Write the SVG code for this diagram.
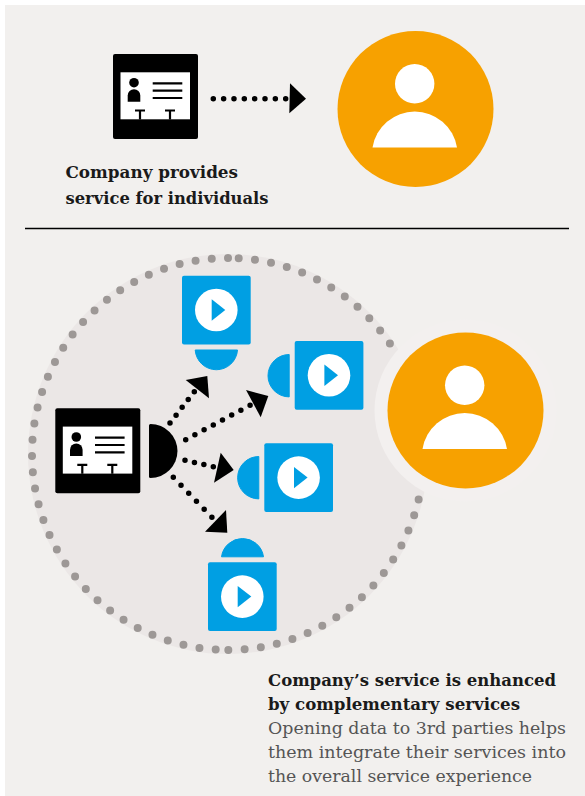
<svg xmlns="http://www.w3.org/2000/svg" width="585" height="796" viewBox="0 0 585 796">
<style>
.t{font-family:"DejaVu Serif","Liberation Serif",serif;font-stretch:condensed;font-size:17.5px}
.b{font-weight:700;fill:#1a1a1a}
.r{fill:#555}
.bl{fill:#009fe3;stroke:#009fe3;stroke-width:1;stroke-linejoin:round}
.dot{fill:none;stroke:#000;stroke-width:5.500;stroke-linecap:round}
.edge{fill:none;stroke:#9d9896;stroke-width:8;stroke-linecap:round;stroke-dasharray:0 1}
</style>
<defs>
<g id="card">
<rect x="0" y="0" width="85" height="85" rx="2" fill="#000"/>
<rect x="7.500" y="18.300" width="69.500" height="47" fill="#fff"/>
<circle cx="21" cy="28.700" r="4.800"/>
<path d="M14.700 47.700v-6.200a6.300 6.300 0 0 1 12.600 0v6.200z"/>
<path d="M39.700 29.300h29.600M39.700 36.700h29.600M39.700 44h29.600" stroke="#000" stroke-width="2.200" fill="none"/>
<path d="M22 56.500h10M27 56.500v9M52 56.500h10M57 56.500v9" stroke="#000" stroke-width="2.200" fill="none"/>
</g>
<g id="player">
<rect x="0" y="0" width="68.700" height="68.700" rx="2" fill="#009fe3"/>
<circle cx="34.300" cy="34.300" r="21.300" fill="#fff"/>
<path d="M29.700 23.600L43.300 34.300L29.700 45z" fill="#009fe3"/>
</g>
<g id="person">
<circle r="78" fill="#f7a100"/>
<circle cx="-0.800" cy="-25.200" r="19.700" fill="#fff"/>
<path d="M-43 38.500A42.800 42.800 0 0 1 41.500 38.500z" fill="#fff"/>
</g>
</defs>
<rect width="585" height="796" fill="#fff"/>
<rect x="5" y="5" width="580" height="791" fill="#f2f0ee"/>

<g id="top-card"><use href="#card" x="113" y="54"/></g>
<g id="top-person"><use href="#person" x="415.500" y="109"/></g>
<g id="divider"><path d="M25 228.500H569" stroke="#000" stroke-width="1.300"/></g>
<g id="top-label">
<text class="t b" x="65.500" y="178.300" textLength="172.500" lengthAdjust="spacingAndGlyphs">Company provides</text>
<text class="t b" x="65.500" y="204.300" textLength="203" lengthAdjust="spacingAndGlyphs">service for individuals</text>
</g>

<g id="ecosystem">
<circle cx="228" cy="454" r="200" fill="#ebe7e6"/>
<path class="edge" pathLength="37.020" d="M228 258A196 196 0 0 0 32 454A196 196 0 0 0 216 649.630"/>
<path class="edge" pathLength="37.020" d="M238.700 258.300A196 196 0 0 1 424 454A196 196 0 0 1 228 650"/>
<circle cx="465.500" cy="410.500" r="91" fill="#f3f0ef"/>
</g>
<g id="person2"><use href="#person" x="465.500" y="410.500"/></g>
<g id="card2">
<use href="#card" x="55.300" y="408.300"/>
<path d="M149 425.500a1.500 1.500 0 0 1 1.500-1.500A27 27 0 0 1 150.500 478a1.500 1.500 0 0 1-1.500-1.500z"/>
</g>
<g id="service-top">
<use href="#player" x="182" y="275.700"/>
<path class="bl" d="M195.200 350H237.500A21.200 21.200 0 0 1 195.200 350z"/>
</g>
<g id="service-right">
<use href="#player" x="294.700" y="341"/>
<path class="bl" d="M289.200 354.500A21.200 21.200 0 0 0 289.200 396.900z"/>
</g>
<g id="service-mid">
<use href="#player" x="264.300" y="443.300"/>
<path class="bl" d="M258.800 456.500A21.200 21.200 0 0 0 258.800 498.900z"/>
</g>
<g id="service-bottom">
<use href="#player" x="208" y="562.300"/>
<path class="bl" d="M221.500 556.800A21.200 21.200 0 0 1 263.500 556.800z"/>
</g>

<g id="connectors">
<path class="dot" stroke-dasharray="0 10.340" d="M213.300 98.700H286"/>
<path d="M290 83.300L306 98.700L289.300 113.300z"/>
<path class="dot" stroke-dasharray="0 9.900" d="M170 423L194.500 391.500"/>
<path d="M185.700 380L207.300 376L209 398.300z"/>
<path class="dot" stroke-dasharray="0 10.430" d="M185.700 439.700L250.200 405.200"/>
<path d="M246 390L268.300 396L260.700 417.300z"/>
<path class="dot" stroke-dasharray="0 9.670" d="M185 460.300L213.500 466.700"/>
<path d="M220.700 452.700L233.700 470L214 482.700z"/>
<path class="dot" stroke-dasharray="0 11.100" d="M173.300 477.300L212.200 517.500"/>
<path d="M226 510L227.300 532.700L205 531.700z"/>
</g>

<g id="bottom-label">
<text class="t b" x="268" y="685.700" textLength="288" lengthAdjust="spacingAndGlyphs">Company’s service is enhanced</text>
<text class="t b" x="268" y="709.500" textLength="252" lengthAdjust="spacingAndGlyphs">by complementary services</text>
<text class="t r" x="268" y="734" textLength="298" lengthAdjust="spacingAndGlyphs">Opening data to 3rd parties helps</text>
<text class="t r" x="268" y="758" textLength="298" lengthAdjust="spacingAndGlyphs">them integrate their services into</text>
<text class="t r" x="268" y="781.700" textLength="264" lengthAdjust="spacingAndGlyphs">the overall service experience</text>
</g>
</svg>
